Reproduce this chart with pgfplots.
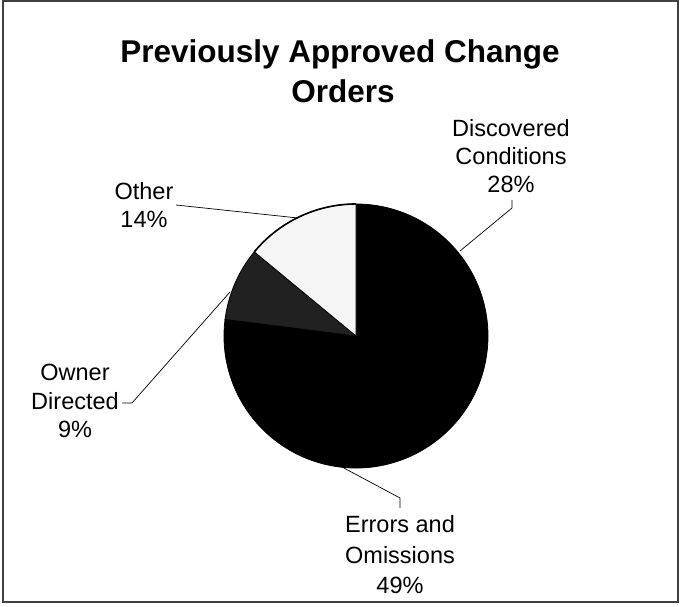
\documentclass[border=0pt]{standalone}
\usepackage{pgfplots}
\usepackage{pgfplotstable}
\pgfplotsset{compat=1.18}
\usepackage{fontspec}
\setmainfont{Liberation Sans}

\pgfplotstableread{
label pct
Discovered 28
Errors 49
Owner 9
Other 14
}\pietable

\begin{document}
\begin{tikzpicture}
% cumulative angles, clockwise from 12 o'clock
\pgfmathsetmacro\aA{90}
\pgfplotstablegetelem{0}{pct}\of\pietable
\pgfmathsetmacro\aB{\aA-3.6*\pgfplotsretval}
\pgfplotstablegetelem{1}{pct}\of\pietable
\pgfmathsetmacro\aC{\aB-3.6*\pgfplotsretval}
\pgfplotstablegetelem{2}{pct}\of\pietable
\pgfmathsetmacro\aD{\aC-3.6*\pgfplotsretval}
\pgfplotstablegetelem{3}{pct}\of\pietable
\pgfmathsetmacro\aE{\aD-3.6*\pgfplotsretval}
\begin{axis}[
  width=682pt, height=607pt, scale only axis,
  xmin=0, xmax=682, ymin=0, ymax=607,
  hide axis, clip=false]
\path (axis cs:0,0) rectangle (axis cs:682,607);
% frame
\draw[line width=1.3pt, black!75] (axis cs:3,5) rectangle (axis cs:678,606);
% pie slices
\filldraw[fill=black, draw=black, line width=0.8pt]
  (axis cs:356,271) -- +(\aA:132pt) arc[start angle=\aA, end angle=\aB, radius=132pt] -- cycle;
\filldraw[fill=black, draw=black, line width=0.8pt]
  (axis cs:356,271) -- +(\aB:132pt) arc[start angle=\aB, end angle=\aC, radius=132pt] -- cycle;
\filldraw[fill=black!87, draw=black, line width=0.8pt]
  (axis cs:356,271) -- +(\aC:132pt) arc[start angle=\aC, end angle=\aD, radius=132pt] -- cycle;
\filldraw[fill=black!4, draw=black, line width=0.8pt]
  (axis cs:356,271) -- +(\aD:132pt) arc[start angle=\aD, end angle=\aE, radius=132pt] -- cycle;
\draw[line width=1.6pt] (axis cs:356,271) ++(\aD:132pt) arc[start angle=\aD, end angle=\aE, radius=132pt];
% leader lines
\draw[line width=0.7pt] (axis cs:512,407) -- (axis cs:512,399) -- (axis cs:460,356);
\draw[line width=0.7pt] (axis cs:176,402) -- (axis cs:298,389);
\draw[line width=0.7pt] (axis cs:122,204) -- (axis cs:132,204) -- (axis cs:230,315);
\draw[line width=0.7pt] (axis cs:342,140) -- (axis cs:400,109) -- (axis cs:400,99);
% title
\node[anchor=base, font=\fontsize{31.5}{38}\selectfont\bfseries] at (axis cs:340,544.5) {Previously Approved Change};
\node[anchor=base, font=\fontsize{31.5}{38}\selectfont\bfseries] at (axis cs:343,504.5) {Orders};
% labels
\node[anchor=base, font=\fontsize{23.5}{28}\selectfont] at (axis cs:511,470) {Discovered};
\node[anchor=base, font=\fontsize{23.5}{28}\selectfont] at (axis cs:511,442) {Conditions};
\node[anchor=base, font=\fontsize{23.5}{28}\selectfont] at (axis cs:511,414) {28\%};
\node[anchor=base, font=\fontsize{23.5}{28}\selectfont] at (axis cs:144,407.5) {Other};
\node[anchor=base, font=\fontsize{23.5}{28}\selectfont] at (axis cs:144,379) {14\%};
\node[anchor=base, font=\fontsize{23.5}{28}\selectfont] at (axis cs:75,226) {Owner};
\node[anchor=base, font=\fontsize{23.5}{28}\selectfont] at (axis cs:75,197) {Directed};
\node[anchor=base, font=\fontsize{23.5}{28}\selectfont] at (axis cs:75,169) {9\%};
\node[anchor=base, font=\fontsize{23.5}{28}\selectfont] at (axis cs:400,74) {Errors and};
\node[anchor=base, font=\fontsize{23.5}{28}\selectfont] at (axis cs:400,43.5) {Omissions};
\node[anchor=base, font=\fontsize{23.5}{28}\selectfont] at (axis cs:400,13) {49\%};
\end{axis}
\end{tikzpicture}
\end{document}
